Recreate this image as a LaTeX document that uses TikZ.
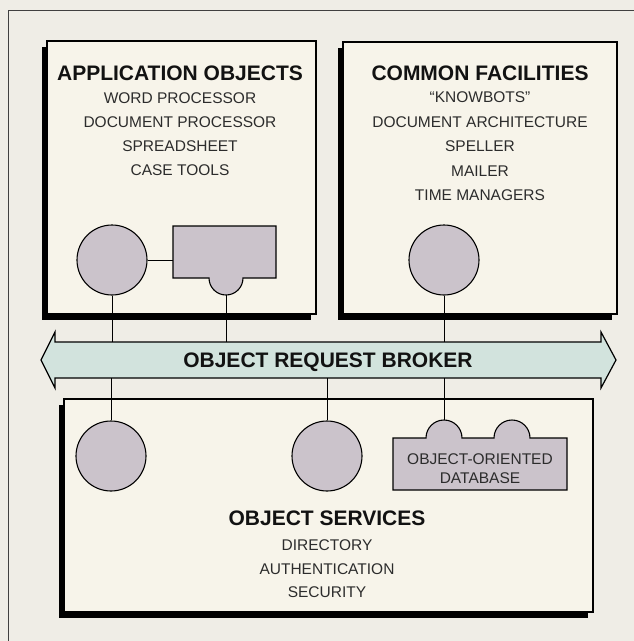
\documentclass[tikz,border=0pt]{standalone}
\usepackage{fontspec}
\setmainfont{Liberation Sans}
\definecolor{bgc}{HTML}{EFEDE6}
\definecolor{boxc}{HTML}{F7F4EA}
\definecolor{objc}{HTML}{CBC3CB}
\definecolor{orbc}{HTML}{D2E3DD}
\definecolor{titc}{HTML}{121212}
\definecolor{itemc}{HTML}{2C2C2C}
\begin{document}
\begin{tikzpicture}[x=1pt,y=-1pt,
  panel/.style={draw=black, line width=1.2pt, fill=boxc},
  shadowbox/.style={fill=black},
  obj/.style={circle, draw=black, line width=1.1pt, fill=objc, minimum size=70pt, inner sep=0pt},
  objshape/.style={draw=black, line width=1.1pt, fill=objc},
  wire/.style={draw=black, line width=1pt},
  title/.style={font=\fontsize{21}{25}\selectfont\bfseries, text=titc, anchor=base, inner sep=0pt},
  item/.style={font=\fontsize{15.5}{18}\selectfont, text=itemc, anchor=base, inner sep=0pt},
]
\fill[bgc] (0,0) rectangle (634,641);
\useasboundingbox (0,0) rectangle (634,641);
\draw[line width=0.8pt, color=black!75] (634,10) -- (8,10) -- (8,641);

% ---------- Application objects panel
\fill[shadowbox] (42,47) rectangle (311,320);
\draw[panel] (47,41) rectangle (316,314);
\node[title] (appT) at (180,80.5) {APPLICATION OBJECTS};
\node[item] (app1) at (180,103.5) {WORD PROCESSOR};
\node[item] (app2) at (180,127.5) {DOCUMENT PROCESSOR};
\node[item] (app3) at (180,151.5) {SPREADSHEET};
\node[item] (app4) at (180,175.5) {CASE TOOLS};
\node[obj] (c1) at (112,260) {};
\path[objshape] (173,226) -- (276,226) -- (276,278) -- (243,278)
  arc[start angle=0, end angle=-180, radius=17pt] -- (173,278) -- cycle;
\coordinate (rectW) at (173,260);
\coordinate (bumpS) at (226,295);

% ---------- Common facilities panel
\fill[shadowbox] (338,48) rectangle (612,320);
\draw[panel] (343,42) rectangle (617,314);
\node[title] (cfT) at (480,80.5) {COMMON FACILITIES};
\node[item] (cf1) at (480,102.5) {“KNOWBOTS”};
\node[item] (cf2) at (480,127) {DOCUMENT ARCHITECTURE};
\node[item] (cf3) at (480,151.5) {SPELLER};
\node[item] (cf4) at (480,176) {MAILER};
\node[item] (cf5) at (480,200.5) {TIME MANAGERS};
\node[obj] (c2) at (444,260) {};

% ---------- Object request broker
\path[draw=black, line width=1.2pt, fill=orbc]
  (41,360) -- (55,332) -- (55,342) -- (601,342) -- (601,332) -- (616,360)
  -- (601,388) -- (601,378) -- (55,378) -- (55,388) -- cycle;
\node[title] (orb) at (328,367.5) {OBJECT REQUEST BROKER};
\coordinate (orbT) at (0,342);
\coordinate (orbB) at (0,378);

% ---------- Object services panel
\fill[shadowbox] (59,405) rectangle (588,618);
\draw[panel] (64,399) rectangle (593,612);
\node[obj] (c3) at (111,456) {};
\node[obj] (c4) at (327,456) {};
\path[objshape] (393,438) -- (426,438)
  arc[start angle=180, end angle=0, radius=18pt] -- (494,438)
  arc[start angle=180, end angle=0, radius=18pt] -- (567,438)
  -- (567,490) -- (393,490) -- cycle;
\coordinate (dbN) at (444,420);
\node[item] (db1) at (480,464) {OBJECT-ORIENTED};
\node[item] (db2) at (480,483) {DATABASE};
\node[title] (osT) at (327,525.5) {OBJECT SERVICES};
\node[item] (os1) at (327,550.5) {DIRECTORY};
\node[item] (os2) at (327,574) {AUTHENTICATION};
\node[item] (os3) at (327,597.5) {SECURITY};

% ---------- connectors
\draw[wire] (c1.east) -- (rectW);
\draw[wire] (c1.south) -- (c1.south |- orbT);
\draw[wire] (bumpS) -- (bumpS |- orbT);
\draw[wire] (c2.south) -- (c2.south |- orbT);
\draw[wire] (c3.north |- orbB) -- (c3.north);
\draw[wire] (c4.north |- orbB) -- (c4.north);
\draw[wire] (dbN |- orbB) -- (dbN);
\end{tikzpicture}
\end{document}
